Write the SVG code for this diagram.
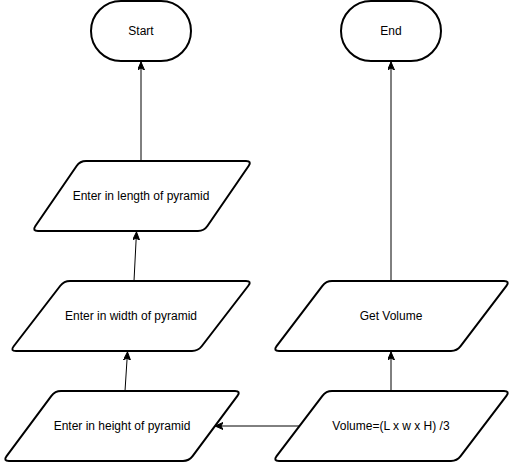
<svg xmlns="http://www.w3.org/2000/svg" width="512" height="462" viewBox="0 0 512 462">
  <style>
    .shape { fill: #ffffff; stroke: #000000; stroke-width: 2; }
    .label { font-family: "Liberation Sans", Arial, sans-serif; font-size: 12px; fill: #000000; text-anchor: middle; }
    .conn { fill: none; stroke: #000000; stroke-width: 1; marker-end: url(#arrow); }
  </style>
  <defs>
    <marker id="arrow" markerUnits="userSpaceOnUse" markerWidth="10" markerHeight="10" refX="8" refY="3.5" orient="auto">
      <path d="M0,0 L8,3.5 L0,7 L2,3.5 Z" fill="#000000" stroke="#000000" stroke-width="1"/>
    </marker>
  </defs>
  <rect width="512" height="462" fill="#ffffff"/>

  <g id="connectors">
    <line class="conn" x1="141" y1="161" x2="141" y2="62"/>
    <line class="conn" x1="134" y1="281" x2="136.5" y2="232"/>
    <line class="conn" x1="125" y1="391" x2="127.5" y2="352"/>
    <line class="conn" x1="299.5" y1="426" x2="215" y2="426"/>
    <line class="conn" x1="391" y1="391" x2="391" y2="352"/>
    <line class="conn" x1="391" y1="281" x2="391" y2="62"/>
  </g>

  <g id="start">
    <rect class="shape" x="91" y="1" width="100" height="60" rx="30" ry="30"/>
    <text class="label" x="141" y="35">Start</text>
  </g>

  <g id="end">
    <rect class="shape" x="341" y="1" width="100" height="60" rx="30" ry="30"/>
    <text class="label" x="391" y="35">End</text>
  </g>

  <g id="length">
    <path class="shape" d="M 86,161 L 246,161 Q 252,161 248.6,166 L 207.4,226 Q 204,231 198,231 L 38,231 Q 32,231 35.4,226 L 76.6,166 Q 80,161 86,161 Z"/>
    <text class="label" x="141" y="200">Enter in length of pyramid</text>
  </g>

  <g id="width">
    <path class="shape" d="M 70,281 L 246,281 Q 252,281 248.3,285.75 L 201.7,346.25 Q 198,351 192,351 L 16,351 Q 10,351 13.7,346.25 L 60.3,285.75 Q 64,281 70,281 Z"/>
    <text class="label" x="131" y="320">Enter in width of pyramid</text>
  </g>

  <g id="height">
    <path class="shape" d="M 61,391 L 235,391 Q 241,391 237.4,395.8 L 192.6,456.2 Q 189,461 183,461 L 9,461 Q 3,461 6.6,456.2 L 51.4,395.8 Q 55,391 61,391 Z"/>
    <text class="label" x="122" y="430">Enter in height of pyramid</text>
  </g>

  <g id="getvolume">
    <path class="shape" d="M 332,281 L 504,281 Q 510,281 506.4,285.8 L 460.6,346.2 Q 457,351 451,351 L 279,351 Q 273,351 276.6,346.2 L 322.4,285.8 Q 326,281 332,281 Z"/>
    <text class="label" x="391" y="320">Get Volume</text>
  </g>

  <g id="volume">
    <path class="shape" d="M 332,391 L 504,391 Q 510,391 506.4,395.8 L 460.6,456.2 Q 457,461 451,461 L 279,461 Q 273,461 276.6,456.2 L 322.4,395.8 Q 326,391 332,391 Z"/>
    <text class="label" x="391" y="430">Volume=(L x w x H) /3</text>
  </g>
</svg>
